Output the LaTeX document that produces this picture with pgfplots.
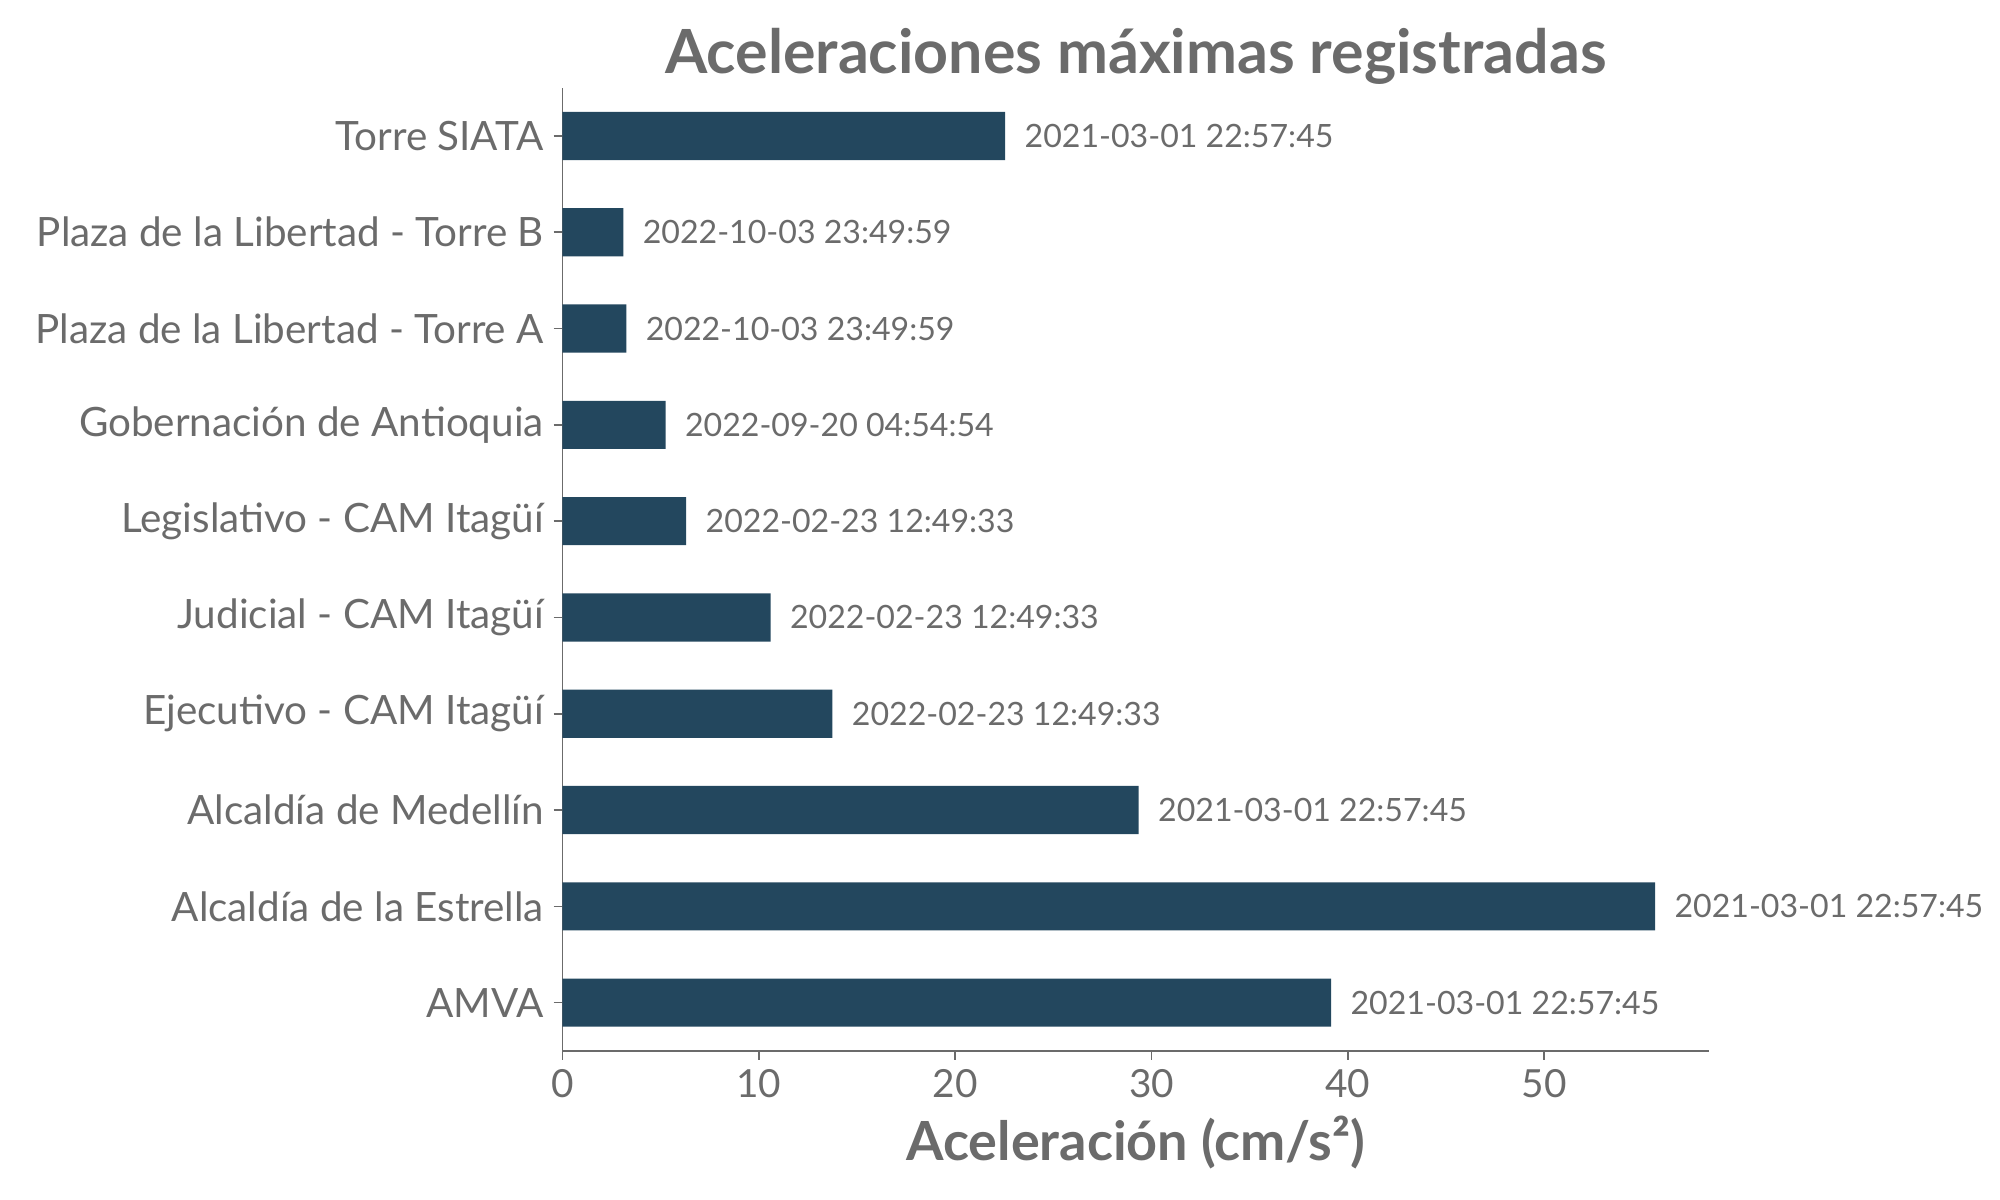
\documentclass[border=0pt]{standalone}
\usepackage{fontspec}
\setmainfont{Lato}
\usepackage{pgfplots}
\usepackage{pgfplotstable}
\pgfplotsset{compat=1.18}
\usetikzlibrary{calc}

\definecolor{barblue}{HTML}{23475E}
\definecolor{txtgray}{HTML}{6B6B6B}

% aceleracion maxima por estacion (cm/s2), y fecha del registro
\pgfplotstableread[col sep=comma]{
y,acc,fecha
0,39.15,2021-03-01 22:57:45
1,55.65,2021-03-01 22:57:45
2,29.35,2021-03-01 22:57:45
3,13.75,2022-02-23 12:49:33
4,10.6,2022-02-23 12:49:33
5,6.3,2022-02-23 12:49:33
6,5.25,2022-09-20 04:54:54
7,3.25,2022-10-03 23:49:59
8,3.1,2022-10-03 23:49:59
9,22.55,2021-03-01 22:57:45
}\datos

\begin{document}
\begin{tikzpicture}
\begin{axis}[
name=ax, at={(0,0)}, anchor=south west,
scale only axis,
width=5.733in, height=4.815in,
xbar, bar width=0.5,
xmin=0, xmax=58.4,
ymin=-0.5, ymax=9.5,
axis x line*=bottom, axis y line*=left,
x axis line style={txtgray, line width=0.9pt},
y axis line style={txtgray, line width=0.6pt},
xtick={0,10,...,50},
ytick={0,...,9},
yticklabels={AMVA, Alcaldía de la Estrella, Alcaldía de Medellín,
  Ejecutivo - CAM Itagüí, Judicial - CAM Itagüí, Legislativo - CAM Itagüí,
  Gobernación de Antioquia, Plaza de la Libertad - Torre A,
  Plaza de la Libertad - Torre B, Torre SIATA},
tick align=outside,
major tick length=3.2pt,
tick style={txtgray, line width=0.6pt},
ticklabel style={font=\fontsize{14}{16}\selectfont, text=txtgray},
yticklabel style={font=\fontsize{14.6}{17}\selectfont},
/pgf/number format/assume math mode=true,
title={Aceleraciones máximas registradas},
title style={font=\fontsize{22}{26}\selectfont\bfseries, text=txtgray,
  at={(0.5,1)}, anchor=base, yshift=-0.9pt},
xlabel={Aceleración (cm/s²)},
xlabel style={font=\fontsize{19.5}{23}\selectfont\bfseries, text=txtgray,
  at={(0.5,0)}, anchor=base, yshift=-39.5pt},
nodes near coords,
nodes near coords align={horizontal},
point meta=explicit symbolic,
every node near coord/.append style={font=\fontsize{11.6}{14}\selectfont,
  text=txtgray, anchor=west, xshift=3.5pt},
clip=false,
]
\addplot[fill=barblue, draw=none] table[x=acc, y=y, meta=fecha]{\datos};
\end{axis}
\pgfresetboundingbox
\path[use as bounding box] ($(ax.south west)+(-2.8125in,-0.746in)$) rectangle ($(ax.south west)+(7.1875in,5.254in)$);
\end{tikzpicture}
\end{document}
